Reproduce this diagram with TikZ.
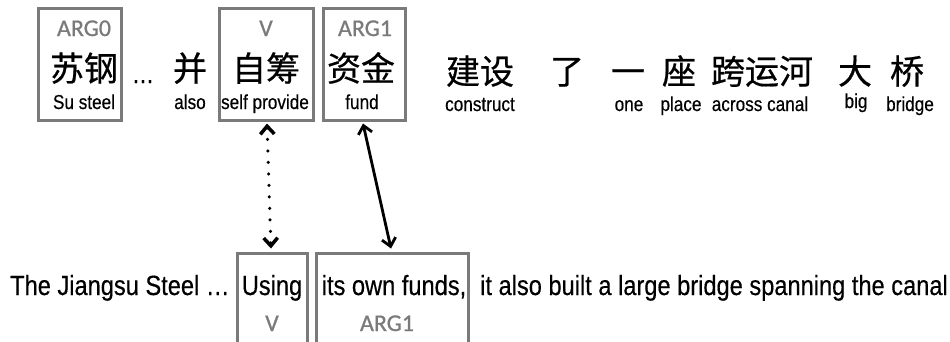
\documentclass[tikz,border=0pt]{standalone}
\usepackage{fontspec}
\setmainfont{Liberation Sans}
\newfontfamily\narrowfont[FakeStretch=0.85,FakeBold=0.4]{Liberation Sans}
\newfontfamily\cjk[FakeBold=0.6]{Noto Sans CJK SC}
\newfontfamily\labfont[FakeBold=0.8]{Carlito}
\usetikzlibrary{arrows.meta}
\definecolor{boxgray}{HTML}{7A7A7A}
\definecolor{labgray}{HTML}{7A7A7A}
\tikzset{
  x=1pt, y=-1pt,
  rolebox/.style={draw=boxgray, line width=3pt, rectangle, inner sep=0pt},
  rolelab/.style={anchor=base, inner sep=0pt, text=labgray, font=\labfont\fontsize{24}{24}\selectfont},
  zh/.style={anchor=base, inner sep=0pt, font=\cjk\fontsize{34}{34}\selectfont},
  gloss/.style={anchor=base, inner sep=0pt, font=\narrowfont\fontsize{20.2}{20.2}\selectfont},
  sent/.style={anchor=base, inner sep=0pt, font=\narrowfont\fontsize{27.8}{27.8}\selectfont},
  link/.style={line width=2.8pt, {Straight Barb[length=8pt,width=14pt]}-{Straight Barb[length=8pt,width=14pt]}},
  dotlink/.style={link, line width=3.5pt, line cap=round, dash pattern=on 0pt off 11.5pt}
}
\begin{document}
\begin{tikzpicture}
\useasboundingbox (0,0) rectangle (950,341);
\begin{scope}
\clip (0,0) rectangle (950,341);
% top boxes
\node[rolebox, minimum width=83pt, minimum height=112pt] (arg0box) at (79.5,64) {};
\node[rolebox, minimum width=94pt, minimum height=112pt] (vtop) at (266,64) {};
\node[rolebox, minimum width=82pt, minimum height=112pt] (a1top) at (364,64) {};
% bottom boxes
\node[rolebox, minimum width=70pt, minimum height=100pt] (vbot) at (272,303) {};
\node[rolebox, minimum width=152pt, minimum height=100pt] (a1bot) at (392,303) {};

% top labels
\node[rolelab] (l0) at (84,36) {ARG0};
\node[rolelab] (lv) at (266,36) {V};
\node[rolelab] (l1) at (365,36) {ARG1};

% Chinese words
\node[zh] (w1) at (84,81) {苏钢};
\node[gloss, font=\narrowfont\fontsize{26}{26}\selectfont] (dots) at (143,83) {…};
\node[zh] (w2) at (190,81) {并};
\node[zh] (w3) at (266,81) {自筹};
\node[zh] (w4) at (361,81) {资金};
\node[zh] (w5) at (480,84) {建设};
\node[zh] (w6) at (567,84) {了};
\node[zh] (w7) at (628,84) {一};
\node[zh] (w8) at (679,84) {座};
\node[zh] (w9) at (762,84) {跨运河};
\node[zh] (w10) at (855,84) {大};
\node[zh] (w11) at (907,84) {桥};

% glosses
\node[gloss] (g1) at (84,109) {Su steel};
\node[gloss] (g2) at (190,109) {also};
\node[gloss] (g3) at (265,109) {self provide};
\node[gloss] (g4) at (362,109) {fund};
\node[gloss] (g5) at (480,111) {construct};
\node[gloss] (g7) at (629,111) {one};
\node[gloss] (g8) at (681,111) {place};
\node[gloss] (g9) at (760,111) {across canal};
\node[gloss] (g10) at (856,108) {big};
\node[gloss] (g11) at (910,111) {bridge};

% English sentence
\node[sent, anchor=base west] (e0) at (10,295) {The Jiangsu Steel …};
\node[sent] (e1) at (272,295) {Using};
\node[sent] (e2) at (394,295) {its own funds,};
\node[sent, anchor=base west] (e3) at (480,295) {it also built a large bridge spanning the canal};

% bottom labels
\node[rolelab] (bv) at (272,331) {V};
\node[rolelab] (b1) at (387,331) {ARG1};

% alignment links
\draw[dotlink] ([xshift=1pt,yshift=-2pt]vtop.south) -- ([xshift=-1pt,yshift=3pt]vbot.north);
\draw[link] ([xshift=-1pt,yshift=-2pt]a1top.south) -- ([xshift=-1pt,yshift=3pt]a1bot.north);
\end{scope}
\end{tikzpicture}
\end{document}
